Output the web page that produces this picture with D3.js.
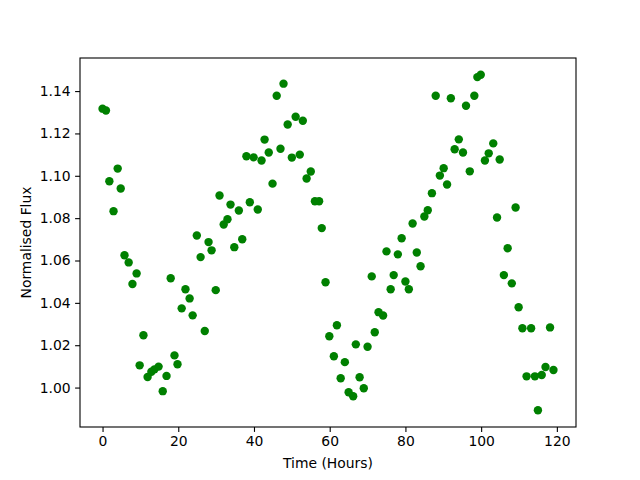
<!DOCTYPE html>
<html>
<head>
<meta charset="utf-8">
<script src="https://cdn.jsdelivr.net/npm/d3@7"></script>
<style>
  body { margin: 0; background: #fff; }
  svg { display: block; font-family: "DejaVu Sans", sans-serif; }
</style>
</head>
<body>
<div id="chart"></div>
<script>
const hours = [
  0, 0.9, 1.8, 2.9, 4.0, 4.8, 5.8, 6.9, 7.9, 9.0,
  9.8, 10.8, 11.9, 12.9, 13.7, 14.8, 15.9, 16.9, 18.0, 19.0,
  19.8, 20.9, 21.9, 23.0, 23.8, 24.9, 25.9, 27.0, 28.0, 28.8,
  29.9, 30.9, 32.0, 33.0, 33.8, 34.8, 36.0, 36.9, 38.0, 38.9,
  39.9, 41.0, 42.0, 42.8, 43.9, 44.9, 46.0, 47.0, 47.8, 48.9,
  50.0, 51.0, 52.1, 52.9, 53.9, 55.0, 56.1, 57.2, 57.9, 58.9,
  59.9, 61.1, 61.9, 62.9, 64.0, 65.0, 66.2, 66.9, 67.9, 69.0,
  70.0, 71.1, 71.9, 72.9, 74.1, 75.0, 76.1, 76.9, 78.0, 79.0,
  80.0, 80.9, 81.9, 83.0, 84.0, 85.0, 85.9, 87.0, 88.0, 89.1,
  90.1, 91.0, 92.0, 93.0, 94.1, 95.2, 96.0, 97.0, 98.2, 99.0,
  99.9, 101.0, 102.0, 103.2, 104.2, 104.9, 106.0, 107.0, 108.1, 109.1,
  109.9, 110.9, 112.0, 113.2, 114.2, 115.0, 116.0, 117.0, 118.2, 119.1
]
const flux = [
  1.1317, 1.1308, 1.0974, 1.0833, 1.1034, 1.0940, 1.0625, 1.0591, 1.0489, 1.0539,
  1.0105, 1.0247, 1.0050, 1.0075, 1.0086, 1.0099, 0.9983, 1.0055, 1.0516, 1.0152,
  1.0110, 1.0374, 1.0464, 1.0421, 1.0341, 1.0718, 1.0616, 1.0267, 1.0687, 1.0648,
  1.0460, 1.0907, 1.0770, 1.0795, 1.0864, 1.0663, 1.0836, 1.0700, 1.1092, 1.0875,
  1.1087, 1.0841, 1.1072, 1.1171, 1.1110, 1.0963, 1.1378, 1.1128, 1.1435, 1.1242,
  1.1086, 1.1279, 1.1100, 1.1260, 1.0987, 1.1020, 1.0880, 1.0880, 1.0753, 1.0497,
  1.0242, 1.0148, 1.0294, 1.0044, 1.0120, 0.9978, 0.9959, 1.0204, 1.0049, 0.9997,
  1.0193, 1.0525, 1.0261, 1.0356, 1.0340, 1.0643, 1.0464, 1.0531, 1.0629, 1.0705,
  1.0501, 1.0464, 1.0775, 1.0638, 1.0573, 1.0808, 1.0837, 1.0918, 1.1378, 1.1001,
  1.1036, 1.0959, 1.1366, 1.1125, 1.1172, 1.1110, 1.1331, 1.1021, 1.1378, 1.1466,
  1.1477, 1.1072, 1.1106, 1.1153, 1.0803, 1.1077, 1.0531, 1.0658, 1.0492, 1.0850,
  1.0379, 1.0280, 1.0053, 1.0280, 1.0053, 0.9893, 1.0059, 1.0097, 1.0284, 1.0083
]
const xTicks = [0, 20, 40, 60, 80, 100, 120]
const yTicks = [1.00, 1.02, 1.04, 1.06, 1.08, 1.10, 1.12, 1.14]

const width = 640
const height = 480
const margin = { top: 58, right: 64, bottom: 53, left: 80 }
const plotW = width - margin.left - margin.right
const plotH = height - margin.top - margin.bottom

// matplotlib-style 5% padding around the data range
const pad = (lo, hi) => [lo - (hi - lo) * 0.05, hi + (hi - lo) * 0.05]
const x = d3.scaleLinear().domain(pad(d3.min(hours), d3.max(hours))).range([0, plotW])
const y = d3.scaleLinear().domain(pad(d3.min(flux), d3.max(flux))).range([plotH, 0])

const svg = d3.select("#chart").append("svg")
  .attr("width", width)
  .attr("height", height)

const g = svg.append("g")
  .attr("transform", `translate(${margin.left},${margin.top})`)

// Points
g.selectAll(".pt")
  .data(hours.map((h, i) => [h, flux[i]]))
  .enter()
  .append("circle")
  .attr("class", "pt")
  .attr("cx", d => x(d[0]))
  .attr("cy", d => y(d[1]))
  .attr("r", 4.2)
  .attr("fill", "#008000")

// Axes
const xAxis = g.append("g")
  .attr("transform", `translate(0,${plotH})`)
  .call(d3.axisBottom(x).tickValues(xTicks).tickFormat(d3.format("d")).tickSize(4.9).tickPadding(4.5))
const yAxis = g.append("g")
  .call(d3.axisLeft(y).tickValues(yTicks).tickFormat(d3.format(".2f")).tickSize(4.9).tickPadding(4.5))

for (const ax of [xAxis, yAxis]) {
  ax.select(".domain").remove()
  ax.selectAll("line").attr("stroke", "#000").attr("stroke-width", 1.1)
  ax.selectAll("text")
    .attr("fill", "#000")
    .style("font-size", "13.9px")
    .style("font-family", "'DejaVu Sans', sans-serif")
}

// Frame
g.append("rect")
  .attr("width", plotW)
  .attr("height", plotH)
  .attr("fill", "none")
  .attr("stroke", "#000")
  .attr("stroke-width", 1.1)

// Axis titles
svg.append("text")
  .attr("x", margin.left + plotW / 2)
  .attr("y", 468)
  .attr("text-anchor", "middle")
  .style("font-size", "13.9px")
  .text("Time (Hours)")

svg.append("text")
  .attr("transform", `translate(31,${margin.top + plotH / 2}) rotate(-90)`)
  .attr("text-anchor", "middle")
  .style("font-size", "13.9px")
  .text("Normalised Flux")
</script>
</body>
</html>
